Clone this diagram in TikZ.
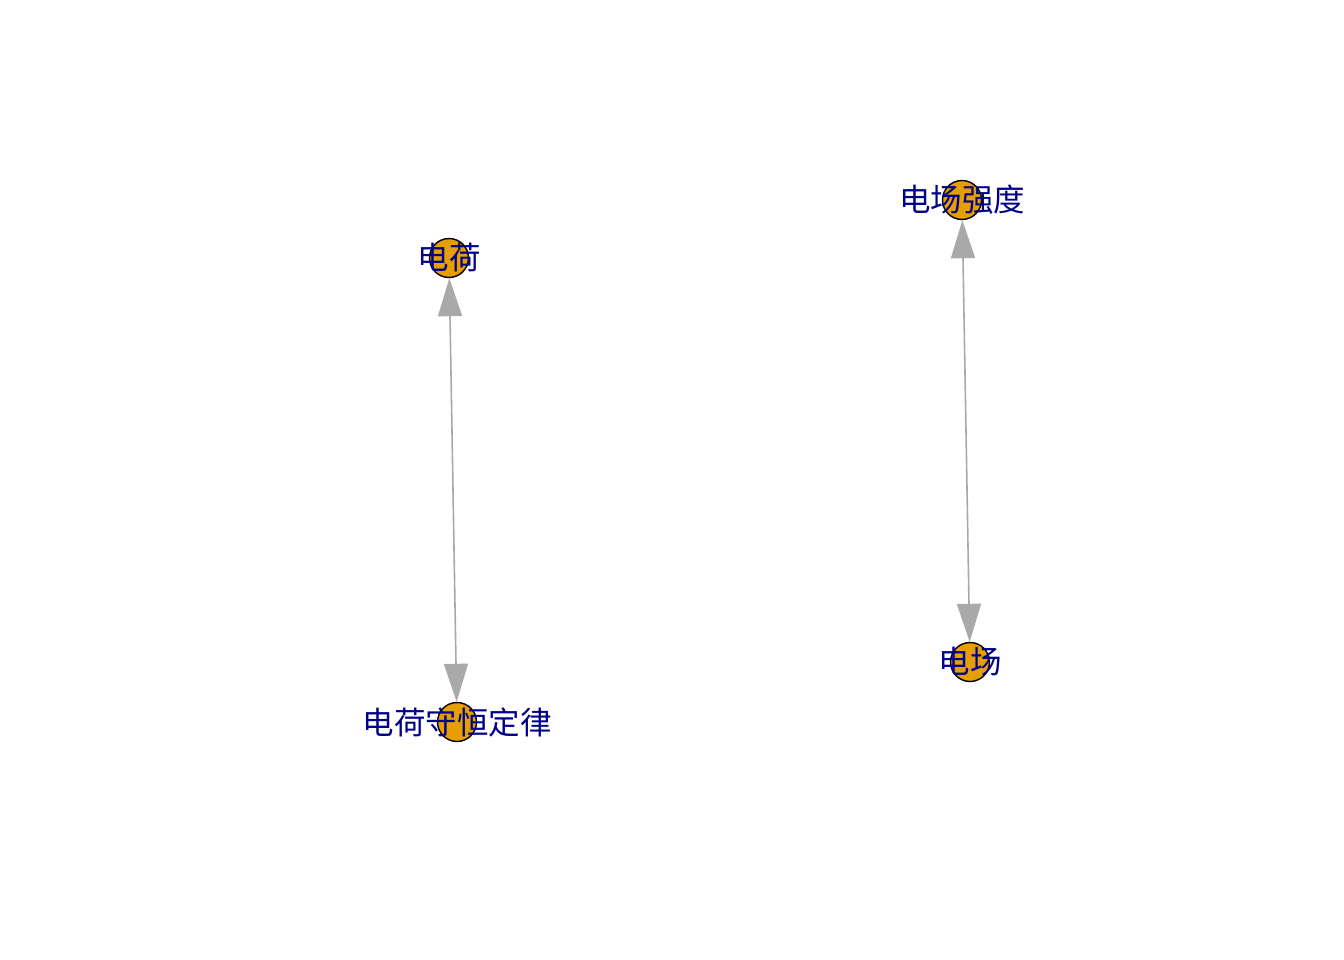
\documentclass[tikz,border=0pt]{standalone}
\usepackage{fontspec}
\newfontfamily\cjk{Noto Sans CJK SC}
\usetikzlibrary{arrows.meta}
\definecolor{vfill}{HTML}{E69F00}
\definecolor{lblue}{RGB}{0,0,139}
\definecolor{egray}{RGB}{169,169,169}
\tikzset{
  vert/.style={circle,draw=black,fill=vfill,line width=1.4pt,minimum size=39pt,inner sep=0pt},
  vlabel/.style={text=lblue,font=\cjk\fontsize{31.5}{31.5}\selectfont,inner sep=0pt},
  edge/.style={draw=egray,line width=1.6pt,{Triangle[length=38pt,width=24pt]}-{Triangle[length=38pt,width=24pt]}}
}
\begin{document}
\begin{tikzpicture}[x=1pt,y=-1pt]
\useasboundingbox[fill=white] (0,0) rectangle (1344,960);
\node[vert] (a) at (449,258) {};
\node[vert] (b) at (457,722) {};
\node[vert] (c) at (962,200) {};
\node[vert] (d) at (970,662) {};
\draw[edge] (a) -- (b);
\draw[edge] (c) -- (d);
\node[vlabel] (al) at (a) {电荷};
\node[vlabel] (bl) at (b) {电荷守恒定律};
\node[vlabel] (cl) at (c) {电场强度};
\node[vlabel] (dl) at (d) {电场};
\end{tikzpicture}
\end{document}
